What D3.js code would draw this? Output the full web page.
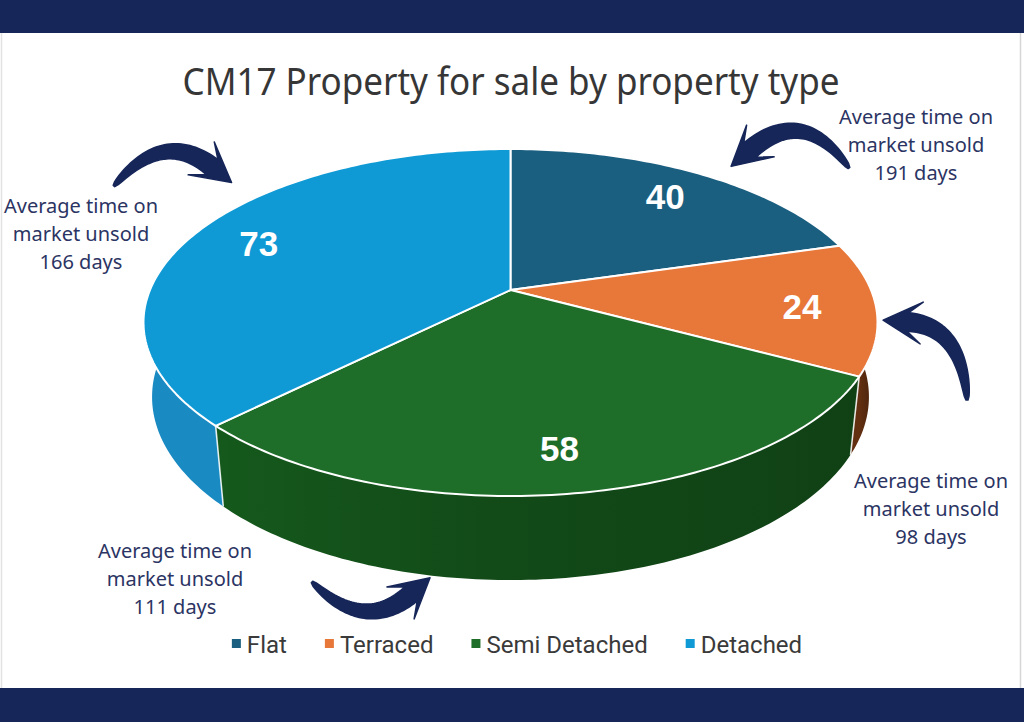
<!DOCTYPE html>
<html>
<head>
<meta charset="utf-8">
<script src="https://cdn.jsdelivr.net/npm/d3@7"></script>
<style>
body { margin: 0; background: #fff; }
svg { display: block; }
</style>
</head>
<body>
<svg id="chart" width="1024" height="722"></svg>
<script>
// data
var categories = ["Flat", "Terraced", "Semi Detached", "Detached"];
var counts = [40, 24, 58, 73];
var daysUnsold = [191, 98, 111, 166];
var colours = ["#1b5f80", "#e8773a", "#1e6e2a", "#0f9ad5"];
var sideColours = ["#134760", "#5e2d10", "#14541b", "#1a8ac3"];
var chartTitle = "CM17 Property for sale by property type";

var W = 1024, H = 722;
var navy = "#162659";
var svg = d3.select("#chart");

// FRAME
svg.append("rect").attr("width", W).attr("height", H).attr("fill", "#fff");
svg.append("rect").attr("width", W).attr("height", 33).attr("fill", navy);
svg.append("rect").attr("y", 688).attr("width", W).attr("height", 34).attr("fill", navy);
svg.append("line").attr("x1", 1.5).attr("x2", 1.5).attr("y1", 33).attr("y2", 688)
  .attr("stroke", "#e2e2e2").attr("stroke-width", 1.5);
svg.append("line").attr("x1", 1020.5).attr("x2", 1020.5).attr("y1", 33).attr("y2", 688)
  .attr("stroke", "#d6d6d6").attr("stroke-width", 1.5);

// TITLE
svg.append("text")
  .attr("x", 511).attr("y", 95)
  .attr("text-anchor", "middle")
  .style("font-family", "'Noto Sans', sans-serif")
  .style("font-size", "38px")
  .attr("fill", "#363636")
  .attr("textLength", 657)
  .attr("lengthAdjust", "spacingAndGlyphs")
  .text(chartTitle);

// 3D PIE (perspective view of a disc)
var cx = 510.5, cy = 290, focal = 1704.5, dist = 4.728;
var tilt = 27.67 * Math.PI / 180;
var sn = Math.sin(tilt), cs = Math.cos(tilt);
var thick = 0.235;

function project(a, r, y) {
  var X = r * Math.sin(a), Z = -r * Math.cos(a);
  var depth = dist - sn * y - cs * Z;
  return [cx + focal * X / depth, cy + focal * (sn * Z - cs * y) / depth];
}

function rim(a0, a1, r, y) {
  var n = Math.max(2, Math.ceil((a1 - a0) / (Math.PI / 180)));
  var pts = [];
  for (var i = 0; i <= n; i++) pts.push(project(a0 + (a1 - a0) * i / n, r, y));
  return pts;
}

var pie = d3.pie().sort(null).value(function(d) { return d; });
var arcs = pie(counts);
var line = d3.line();
var defs = svg.append("defs");
var pieG = svg.append("g");

// walls (front half only)
arcs.forEach(function(d, i) {
  var a0 = Math.max(d.startAngle, Math.PI / 2), a1 = Math.min(d.endAngle, 3 * Math.PI / 2);
  if (a0 >= a1) return;
  var top = rim(a0, a1, 1, 0), bot = rim(a0, a1, 1, -thick).reverse();
  var xs = top.map(function(p) { return p[0]; });
  var base = d3.color(sideColours[i]);
  var flat = i == 3;
  var grad = defs.append("linearGradient").attr("id", "side" + i)
    .attr("gradientUnits", "userSpaceOnUse")
    .attr("x1", d3.max(xs)).attr("x2", d3.min(xs)).attr("y1", 0).attr("y2", 0);
  grad.append("stop").attr("offset", "0%").attr("stop-color", flat ? base : base.darker(0.7));
  grad.append("stop").attr("offset", "55%").attr("stop-color", flat ? base : base.darker(0.35));
  grad.append("stop").attr("offset", "100%").attr("stop-color", flat ? base : base.brighter(0.15));
  pieG.append("path")
    .attr("d", line(top.concat(bot)) + "Z")
    .attr("fill", "url(#side" + i + ")");
});

// vertical edges where slices meet on the wall
arcs.forEach(function(d) {
  var a = d.endAngle;
  if (a > Math.PI / 2 && a < 3 * Math.PI / 2) {
    pieG.append("path")
      .attr("d", line([project(a, 1, 0), project(a, 1, -thick)]))
      .attr("stroke", "#fff").attr("stroke-opacity", 0.85).attr("stroke-width", 1.6);
  }
});

// top faces
arcs.forEach(function(d, i) {
  var pts = [project(0, 0, 0)].concat(rim(d.startAngle, d.endAngle, 1, 0));
  pieG.append("path")
    .attr("d", line(pts) + "Z")
    .attr("fill", colours[i])
    .attr("stroke", "#fff")
    .attr("stroke-width", 2)
    .attr("stroke-linejoin", "round");
});

// value labels
arcs.forEach(function(d) {
  var p = project((d.startAngle + d.endAngle) / 2, 0.8, 0);
  pieG.append("text")
    .attr("x", p[0]).attr("y", p[1] + 15)
    .attr("text-anchor", "middle")
    .style("font-family", "'Liberation Sans', Arial, sans-serif")
    .style("font-weight", "bold")
    .style("font-size", "35px")
    .attr("fill", "#fff")
    .text(d.data);
});

// ANNOTATIONS
var notes = [
  { i: 0, x: 916, y: 124 },
  { i: 1, x: 931, y: 488 },
  { i: 2, x: 175, y: 558 },
  { i: 3, x: 81, y: 213 }
];
notes.forEach(function(n) {
  var t = svg.append("text")
    .attr("text-anchor", "middle")
    .style("font-family", "'Noto Sans', sans-serif")
    .style("font-size", "20px")
    .attr("fill", "#2b3463");
  ["Average time on", "market unsold", daysUnsold[n.i] + " days"].forEach(function(s, k) {
    t.append("tspan").attr("x", n.x).attr("y", n.y + k * 28).text(s);
  });
});

// ARROWS (tapered curved shaft + barbed head)
function arrow(p0, p1, p2, headLen, headW, shaftW) {
  var N = 40, left = [], right = [];
  for (var k = 0; k <= N; k++) {
    var t = k / N, u = 1 - t;
    var bx = u * u * p0[0] + 2 * u * t * p1[0] + t * t * p2[0];
    var by = u * u * p0[1] + 2 * u * t * p1[1] + t * t * p2[1];
    var dx = 2 * u * (p1[0] - p0[0]) + 2 * t * (p2[0] - p1[0]);
    var dy = 2 * u * (p1[1] - p0[1]) + 2 * t * (p2[1] - p1[1]);
    var l = Math.hypot(dx, dy), nx = -dy / l, ny = dx / l;
    var w = (2 + (shaftW - 2) * Math.pow(t, 0.5)) / 2;
    left.push([bx + nx * w, by + ny * w]);
    right.push([bx - nx * w, by - ny * w]);
  }
  var ex = p2[0] - p1[0], ey = p2[1] - p1[1], el = Math.hypot(ex, ey);
  ex /= el; ey /= el;
  var mx = -ey, my = ex;
  var sweep = headLen * 0.55;
  var head = [
    [p2[0] + mx * headW - ex * sweep, p2[1] + my * headW - ey * sweep],
    [p2[0] + ex * headLen, p2[1] + ey * headLen],
    [p2[0] - mx * headW - ex * sweep, p2[1] - my * headW - ey * sweep]
  ];
  svg.append("path")
    .attr("d", line(left.concat(head, right.reverse())) + "Z")
    .attr("fill", navy)
    .attr("stroke", navy).attr("stroke-width", 1.5).attr("stroke-linejoin", "round");
}
arrow([114, 186], [163, 128], [212, 167], 25, 21, 19);
arrow([849, 168], [803, 104], [750, 150], 25, 21, 19);
arrow([967, 400], [962, 326], [908, 322], 25, 21, 19);
arrow([312, 582], [364, 634], [411, 594], 25, 21, 19);

// LEGEND
var legendG = svg.append("g")
  .style("font-family", "'Liberation Sans Narrow', 'Roboto', sans-serif")
  .style("font-size", "24px");
var lx = 0;
categories.forEach(function(c, i) {
  var g = legendG.append("g");
  g.append("rect").attr("x", 0).attr("y", -14).attr("width", 9).attr("height", 9).attr("fill", colours[i]);
  var t = g.append("text").attr("x", 15).attr("y", 0).attr("fill", "#3a3a3a").text(c);
  var w = 15 + t.node().getComputedTextLength();
  g.attr("transform", "translate(" + lx + ",0)");
  lx += w + 38;
});
lx -= 38;
legendG.attr("transform", "translate(" + (517 - lx / 2) + ",653)");
</script>
</body>
</html>
